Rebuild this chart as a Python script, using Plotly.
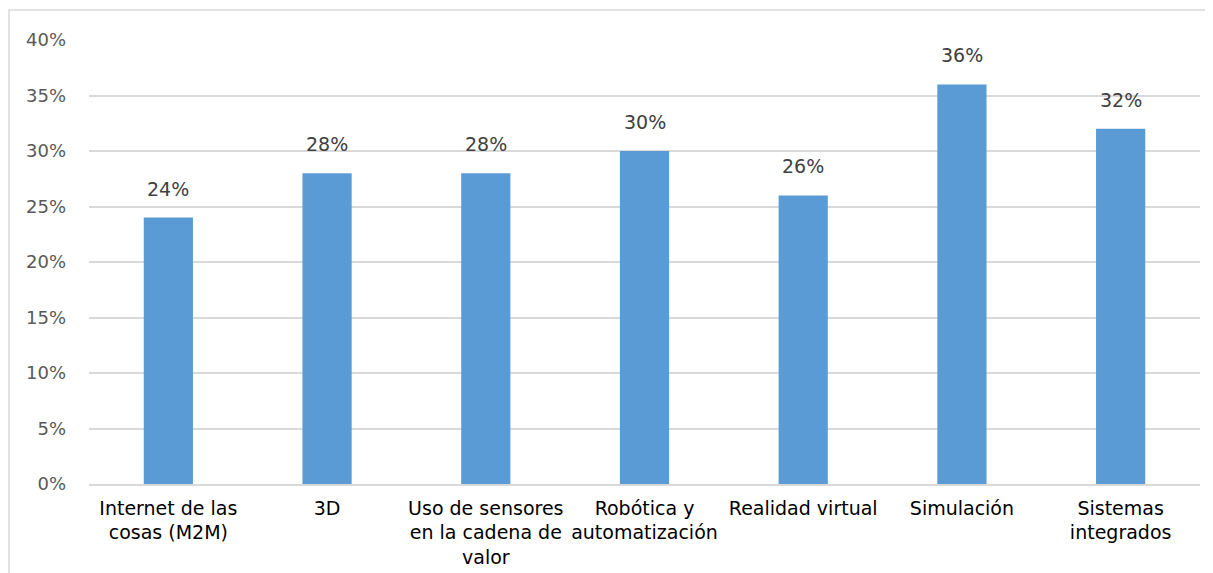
import plotly.graph_objects as go

categories = ["Internet de las<br>cosas (M2M)", "3D", "Uso de sensores<br>en la cadena de<br>valor",
              "Robótica y<br>automatización", "Realidad virtual", "Simulación", "Sistemas<br>integrados"]
values = [0.24, 0.28, 0.28, 0.30, 0.26, 0.36, 0.32]
labels = ["24%", "28%", "28%", "30%", "26%", "36%", "32%"]
tick_vals = [0, 0.05, 0.10, 0.15, 0.20, 0.25, 0.30, 0.35, 0.40]
tick_text = ["0%", "5%", "10%", "15%", "20%", "25%", "30%", "35%", "40%"]

FONT = "DejaVu Sans"
# the page body adds an 8px offset; figure coordinates are screenshot minus 8
W, H = 1205, 565
L, R, T, B = 81, 13, 32, 89
pw, ph = W - L - R, H - T - B

fig = go.Figure()
fig.add_trace(go.Bar(x=categories, y=values, marker=dict(color="#5B9BD5", line=dict(width=0)),
                     hoverinfo="skip"))

for c, v, t in zip(categories, values, labels):
    fig.add_annotation(x=c, y=v, text=t, showarrow=False, yanchor="bottom", yshift=16,
                       font=dict(family=FONT, size=19, color="#404040"))

# outer chart border (extends beyond the visible window on right and bottom)
fig.add_shape(type="rect", xref="paper", yref="paper",
              x0=(1 - L) / pw, x1=(W + 10 - L) / pw,
              y0=-(H + 10 - T - ph) / ph, y1=1 + (T - 2) / ph,
              line=dict(color="#D9D9D9", width=1.5), fillcolor="rgba(0,0,0,0)", layer="below")

fig.update_layout(
    width=W, height=H,
    margin=dict(l=L, r=R, t=T, b=B, autoexpand=False),
    plot_bgcolor="white", paper_bgcolor="white",
    bargap=0.69, showlegend=False,
    font=dict(family=FONT, size=18, color="#000000"),
)
fig.update_xaxes(showgrid=False, showline=True, linecolor="#D9D9D9", linewidth=1.5,
                 tickfont=dict(family=FONT, size=19, color="#000000"), tickangle=0,
                 ticks="outside", ticklen=6, tickcolor="rgba(0,0,0,0)")
fig.update_yaxes(range=[0, 0.40], tickvals=tick_vals, ticktext=tick_text,
                 showgrid=True, gridcolor="#D9D9D9", gridwidth=1.5, zeroline=False,
                 showline=False, tickfont=dict(family=FONT, size=18, color="#595959"),
                 ticklabelstandoff=22)

fig.write_html("out.html")
